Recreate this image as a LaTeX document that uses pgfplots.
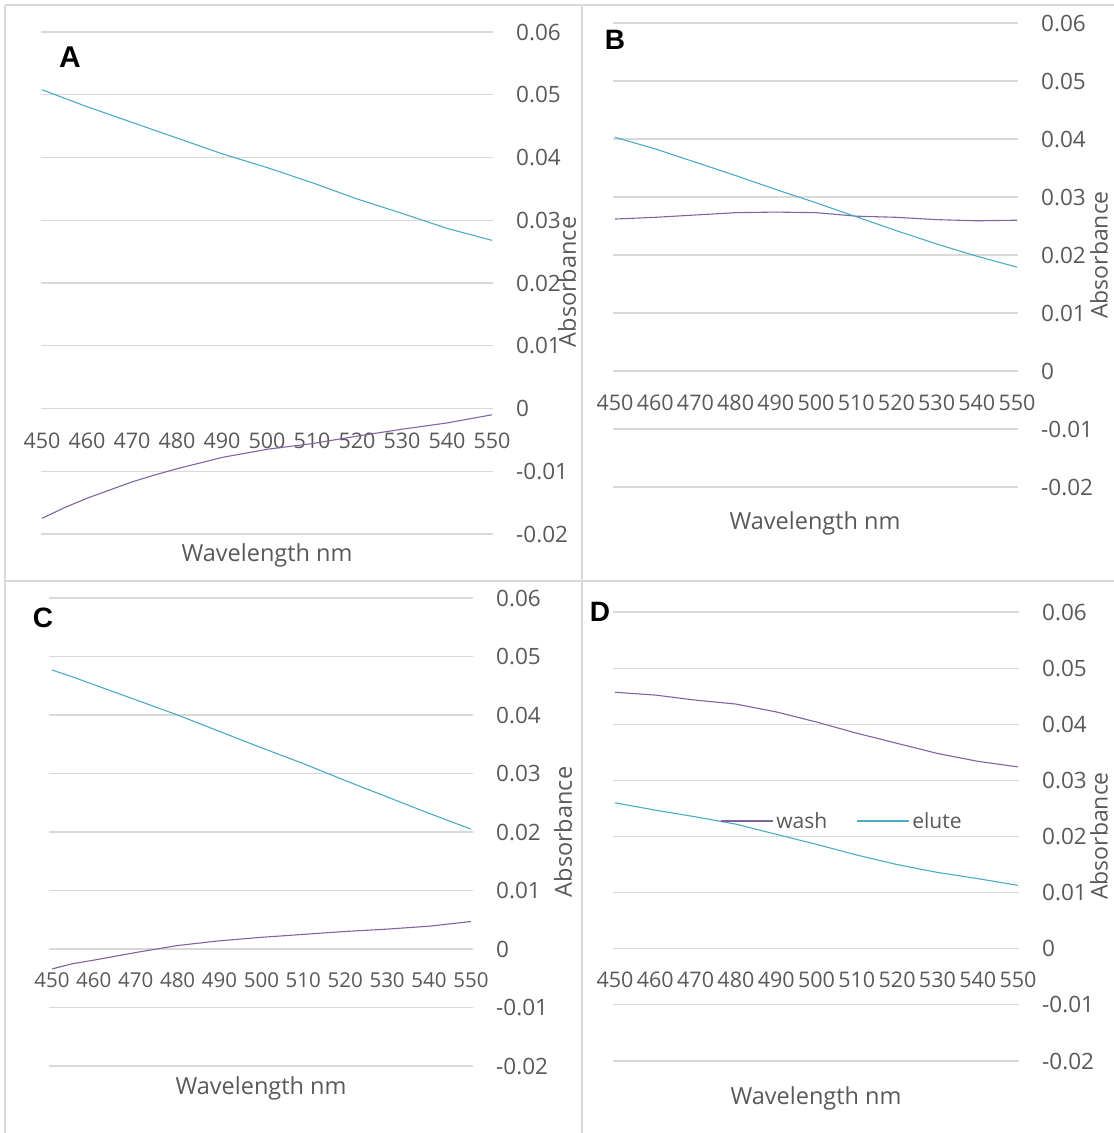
\documentclass[border=0pt]{standalone}
\usepackage{fontspec}
\setmainfont{Open Sans}
\newfontfamily\letterfont{Liberation Sans}
\usepackage{pgfplots}
\pgfplotsset{compat=1.18}
\definecolor{washc}{HTML}{8064A2}
\definecolor{elutec}{HTML}{4BACC6}
\definecolor{txt}{HTML}{595959}
\definecolor{gridc}{HTML}{D9D9D9}
\pgfplotsset{
  panel/.style={
    scale only axis, ymin=-0.02, ymax=0.06,
    axis x line*=middle, axis y line*=right,
    x axis line style={draw=none}, y axis line style={draw=none},
    major tick length=0pt, tick style={draw=none},
    scaled y ticks=false, scaled x ticks=false,
    ymajorgrids, grid style={line width=1.1pt, color=gridc},
    xtick={450,460,470,480,490,500,510,520,530,540,550},
    xticklabels={450,460,470,480,490,500,510,520,530,540,550},
    ytick={-0.02,-0.01,0,0.01,0.02,0.03,0.04,0.05,0.06},
    yticklabels={-0.02,-0.01,0,0.01,0.02,0.03,0.04,0.05,0.06},
    xticklabel style={anchor=center, text=txt},
    yticklabel style={anchor=west, inner sep=0pt, xshift=23pt, font=\fontsize{22.5}{26}\selectfont, text=txt},
    clip=false,
    every axis plot/.append style={line width=1.1pt},
  },
}
\begin{document}
\begin{tikzpicture}
\useasboundingbox (0,0) rectangle (1114pt,-1133pt);
\draw[gridc, line width=1.5pt] (5pt,-5pt) -- (1114pt,-5pt);
\draw[gridc, line width=1.5pt] (5pt,-5pt) -- (5pt,-1133pt);
\draw[gridc, line width=1.5pt] (582pt,-5pt) -- (582pt,-1133pt);
\draw[gridc, line width=1.5pt] (5pt,-581pt) -- (1114pt,-581pt);

% ---------- A ----------
\begin{axis}[panel, at={(41pt,-534pt)}, anchor=south west,
  width=452pt, height=502pt, xmin=449.78, xmax=550.22,
  xticklabel style={yshift=-32pt, font=\fontsize{21.5}{26}\selectfont}]
\addplot[color=elutec] coordinates {(450,0.0508)(460,0.0481)(470,0.0456)(480,0.0431)(490,0.0406)(500,0.0384)(510,0.0360)(520,0.0334)(530,0.0311)(540,0.0287)(550,0.0268)};
\addplot[color=washc] coordinates {(450,-0.0175)(455,-0.0158)(460,-0.0143)(465,-0.0130)(470,-0.0117)(475,-0.0106)(480,-0.0096)(490,-0.0078)(500,-0.0065)(510,-0.0056)(520,-0.0044)(530,-0.0033)(540,-0.0023)(550,-0.0010)};
\end{axis}
\node[text=txt, font=\fontsize{23.5}{26}\selectfont] at (267pt,-555pt) {Wavelength nm};
\node[text=txt, rotate=90, font=\fontsize{23.5}{26}\selectfont] at (567pt,-282pt) {Absorbance};
\node[font=\letterfont\bfseries\fontsize{30}{34}\selectfont] at (70pt,-57pt) {A};

% ---------- B ----------
\begin{axis}[panel, at={(613pt,-487pt)}, anchor=south west,
  width=405pt, height=464pt, xmin=449.5, xmax=550.25,
  xticklabel style={yshift=-32pt, font=\fontsize{21.5}{26}\selectfont}]
\addplot[color=washc] coordinates {(450,0.0262)(460,0.0265)(470,0.0269)(480,0.0273)(490,0.0274)(500,0.0273)(510,0.0267)(520,0.0265)(530,0.0261)(540,0.0259)(550,0.0260)};
\addplot[color=elutec] coordinates {(450,0.0403)(460,0.0383)(470,0.0360)(480,0.0337)(490,0.0313)(500,0.0290)(510,0.0266)(520,0.0242)(530,0.0219)(540,0.0198)(550,0.0179)};
\end{axis}
\node[text=txt, font=\fontsize{23.5}{26}\selectfont] at (815pt,-523pt) {Wavelength nm};
\node[text=txt, rotate=90, font=\fontsize{23}{26}\selectfont] at (1099pt,-255pt) {Absorbance};
\node[font=\letterfont\bfseries\fontsize{28}{34}\selectfont] at (615pt,-40pt) {B};

% ---------- C ----------
\begin{axis}[panel, at={(49pt,-1066pt)}, anchor=south west,
  width=424pt, height=468pt, xmin=449.3, xmax=550.5,
  xticklabel style={yshift=-31pt, font=\fontsize{20.5}{24}\selectfont}]
\addplot[color=elutec] coordinates {(450,0.0477)(455,0.0465)(460,0.0452)(470,0.0426)(480,0.0400)(490,0.0372)(500,0.0344)(510,0.0317)(520,0.0288)(530,0.0260)(540,0.0232)(550,0.0205)};
\addplot[color=washc] coordinates {(450,-0.0034)(455,-0.0025)(460,-0.0019)(470,-0.0006)(480,0.0006)(490,0.0014)(500,0.0020)(510,0.0025)(520,0.0030)(530,0.0034)(540,0.0039)(550,0.0047)};
\end{axis}
\node[text=txt, font=\fontsize{23.5}{26}\selectfont] at (261pt,-1088pt) {Wavelength nm};
\node[text=txt, rotate=90, font=\fontsize{23.5}{26}\selectfont] at (563pt,-832pt) {Absorbance};
\node[font=\letterfont\bfseries\fontsize{28}{34}\selectfont] at (43pt,-618pt) {C};

% ---------- D ----------
\begin{axis}[panel, at={(613pt,-1061pt)}, anchor=south west,
  width=406pt, height=449pt, xmin=449.5, xmax=550.25,
  xticklabel style={yshift=-31pt, font=\fontsize{21.5}{26}\selectfont},
  legend style={at={(rel axis cs:0.565,0.5345)}, anchor=center, draw=none, fill=none,
    legend columns=2, font=\fontsize{21}{24}\selectfont, text=txt,
    nodes={inner xsep=3pt},
    /tikz/every even column/.append style={column sep=26pt}},
  legend image code/.code={\draw[#1] (0pt,0pt) -- (52pt,0pt);}]
\addplot[color=washc] coordinates {(450,0.0457)(460,0.0452)(470,0.0443)(480,0.0436)(490,0.0422)(500,0.0404)(510,0.0384)(520,0.0366)(530,0.0348)(540,0.0334)(550,0.0324)};
\addlegendentry{wash}
\addplot[color=elutec] coordinates {(450,0.0260)(460,0.0247)(470,0.0235)(480,0.0222)(490,0.0204)(500,0.0186)(510,0.0167)(520,0.0150)(530,0.0136)(540,0.0125)(550,0.0113)};
\addlegendentry{elute}
\end{axis}
\node[text=txt, font=\fontsize{23.5}{26}\selectfont] at (816pt,-1098pt) {Wavelength nm};
\node[text=txt, rotate=90, font=\fontsize{23}{26}\selectfont] at (1099pt,-836pt) {Absorbance};
\node[font=\letterfont\bfseries\fontsize{28}{34}\selectfont] at (600pt,-612pt) {D};
\end{tikzpicture}
\end{document}
